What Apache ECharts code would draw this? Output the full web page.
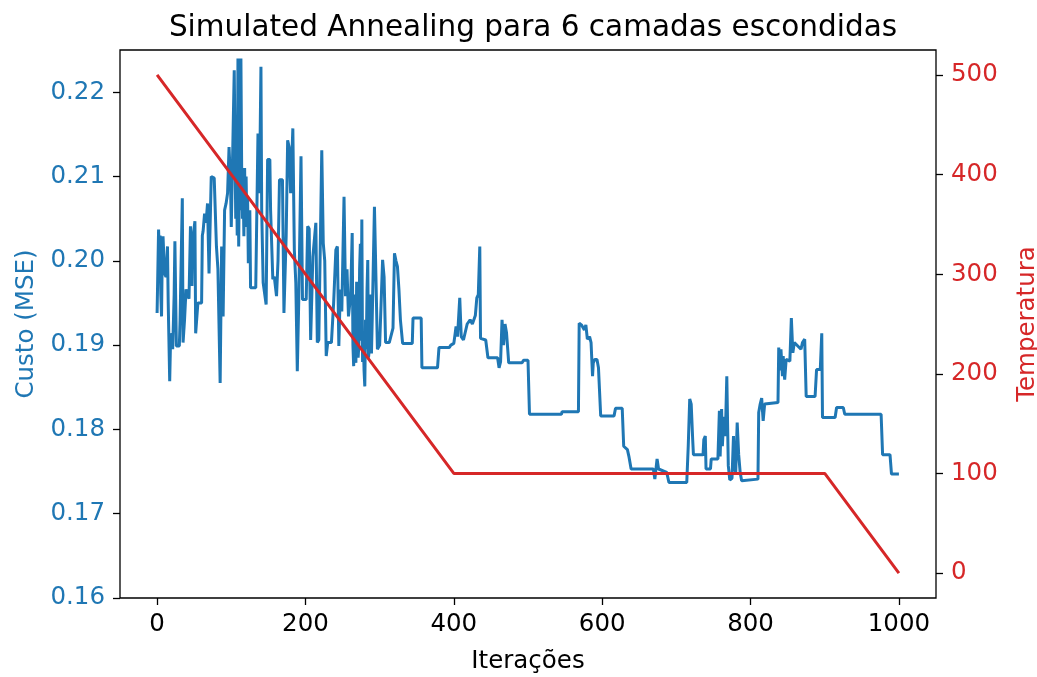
<!DOCTYPE html>
<html>
<head>
<meta charset="utf-8">
<script src="https://cdn.jsdelivr.net/npm/echarts@6/dist/echarts.min.js"></script>
<style>
html,body{margin:0;padding:0;background:#fff;}
#chart{width:1037px;height:677px;}
</style>
</head>
<body>
<div id="chart"></div>
<script>
// ---- data ----
var titleText = 'Simulated Annealing para 6 camadas escondidas';
var xTicks = [0, 200, 400, 600, 800, 1000];
var costTicks = [0.16, 0.17, 0.18, 0.19, 0.20, 0.21, 0.22];
var tempTicks = [0, 100, 200, 300, 400, 500];

var costIter = [
0,2,3,4,5,6,7,8,10,12,14,15,17,18,20,21,23,24,25,26,30,31,34,35,37,39,43,45,47,48,51,52,55,60,61,62,64,66,68,70,73,77,80,82,85,87,89,91,93,95,97,99,100,102,104,
105,106,107,108,109,110,111,112,113,114,115,116,117,118,119,120,121,122,123,124,125,126,133,136,138,140,141,143,147,149,152,153,156,158,161,163,165,169,171,174,176,178,180,183,185,187,189,191,194,196,201,203,205,207,210,214,216,218,222,
224,226,228,230,235,238,241,243,245,247,249,252,254,256,258,261,263,264,265,266,267,268,269,270,271,272,273,274,275,276,277,278,279,280,281,282,283,284,285,286,287,288,289,290,293,295,297,300,304,306,308,313,318,320,322,324,326,328,331,
344,345,356,357,378,380,394,396,400,402,403,405,408,410,413,418,422,425,429,431,433,435,436,443,446,459,461,463,465,467,469,471,474,492,494,500,502,
545,546,568,569,572,574,576,578,580,583,585,587,588,590,593,595,598,616,618,627,629,634,636,639,669,671,673,674,676,687,690,
714,716,718,720,722,723,736,737,739,740,746,747,756,758,759,761,762,764,766,768,769,770,772,775,777,778,780,782,784,786,788,810,811,813,815,817,819,821,837,
838,840,841,843,844,846,848,853,855,857,859,868,870,873,875,887,889,894,896,897,914,916,925,927,976,978,988,990,1000
];
var cost = [
0.1938,0.2037,0.2010,0.2030,0.1960,0.1934,0.2010,0.2029,0.1985,0.1981,0.2017,0.1950,0.1857,0.1900,0.1914,0.1895,0.1960,0.2023,0.1960,0.1899,0.1899,0.1930,0.2074,0.1903,0.1930,0.1966,0.1955,0.2041,0.1970,0.2025,0.2047,0.1914,0.1950,0.1950,0.2030,0.2035,0.2056,0.2045,0.2068,0.1985,0.2100,0.2098,0.2017,0.1990,0.1855,0.2017,0.1934,0.2060,0.2068,0.2080,0.2135,0.2092,0.2040,0.2041,0.2226,
0.2226,0.2050,0.2120,0.2030,0.2240,0.2017,0.2116,0.2060,0.2240,0.2112,0.2050,0.2090,0.2029,0.2110,0.2045,0.2100,0.2040,0.2075,0.1997,0.2030,0.2060,0.1968,0.1968,0.2151,0.2080,0.2230,0.2060,0.1974,0.1948,0.2120,0.2120,0.2060,0.1978,0.1981,0.1958,0.2000,0.2096,0.2096,0.1938,0.2029,0.2143,0.2135,0.2080,0.2157,0.2013,0.1974,0.1869,0.1954,0.2124,0.1954,0.1954,0.2041,0.2038,0.1906,0.2005,0.2045,0.1903,0.1906,0.2131,
0.2021,0.2000,0.1887,0.1903,0.1903,0.1950,0.2013,0.2017,0.1899,0.1966,0.1940,0.2076,0.1958,0.1990,0.1934,0.1960,0.2033,0.1900,0.1875,0.1960,0.1890,0.1879,0.1975,0.1962,0.1885,0.1900,0.1990,0.2020,0.1905,0.2049,0.1880,0.1910,0.1870,0.1851,0.1930,0.1895,0.1965,0.2001,0.1885,0.1895,0.1960,0.1950,0.1890,0.1930,0.2064,0.1981,0.1895,0.1900,0.2001,0.1981,0.1903,0.1903,0.1920,0.2009,0.2000,0.1993,0.1966,0.1930,0.1902,
0.1902,0.1932,0.1932,0.1873,0.1873,0.1897,0.1897,0.1900,0.1902,0.1915,0.1922,0.1910,0.1956,0.1910,0.1906,0.1925,0.1930,0.1925,0.1935,0.1956,0.1960,0.2017,0.1908,0.1906,0.1885,0.1885,0.1873,0.1880,0.1930,0.1900,0.1925,0.1915,0.1879,0.1879,0.1882,0.1882,0.1818,
0.1818,0.1821,0.1821,0.1926,0.1924,0.1926,0.1918,0.1924,0.1907,0.1910,0.1903,0.1863,0.1879,0.1883,0.1883,0.1873,0.1816,0.1816,0.1825,0.1825,0.1780,0.1776,0.1768,0.1753,0.1753,0.1741,0.1741,0.1765,0.1753,0.1749,0.1737,
0.1737,0.1780,0.1836,0.1830,0.1788,0.1770,0.1770,0.1788,0.1792,0.1753,0.1753,0.1765,0.1765,0.1822,0.1768,0.1824,0.1780,0.1815,0.1792,0.1863,0.1862,0.1757,0.1740,0.1742,0.1792,0.1757,0.1749,0.1808,0.1770,0.1749,0.1739,0.1741,0.1820,0.1830,0.1837,0.1810,0.1830,0.1832,0.1832,
0.1897,0.1870,0.1895,0.1863,0.1887,0.1859,0.1883,0.1881,0.1932,0.1891,0.1903,0.1895,0.1903,0.1907,0.1839,0.1839,0.1871,0.1871,0.1914,0.1814,0.1814,0.1826,0.1826,0.1818,0.1818,0.1770,0.1770,0.1747,0.1747
];
var tempIter = [0, 400, 900, 1000];
var temperature = [500, 100, 100, 0];

// ---- chart ----
var costData = costIter.map(function (x, i) { return [x, cost[i]]; });
var tempData = tempIter.map(function (x, i) { return [x, temperature[i]]; });

var FONT = 'DejaVu Sans';
var BLUE = '#1f77b4', RED = '#d62728';
var FS = 24.5;
var tickStyle = {show: true, inside: false, length: 7, lineStyle: {color: '#000', width: 1.3}};
var chart = echarts.init(document.getElementById('chart'), null, {renderer: 'canvas'});
chart.setOption({
  animation: false,
  backgroundColor: '#fff',
  textStyle: {fontFamily: FONT},
  title: {
    text: titleText, left: 528, top: 8, textAlign: 'center',
    textStyle: {fontFamily: FONT, fontSize: 29.5, fontWeight: 'normal', color: '#000'}
  },
  grid: {left: 120, right: 101, top: 50, bottom: 79, containLabel: false, outerBoundsMode: 'none',
    show: true, borderColor: '#000', borderWidth: 1.3, backgroundColor: 'transparent'},
  xAxis: {
    type: 'value', min: -50, max: 1050,
    name: 'Iterações', nameLocation: 'middle', nameGap: 51,
    nameTextStyle: {fontFamily: FONT, fontSize: FS, color: '#000'},
    axisLine: {show: false, onZero: false},
    axisTick: Object.assign({customValues: xTicks}, tickStyle),
    axisLabel: {customValues: xTicks, fontFamily: FONT, fontSize: FS, color: '#000', margin: 14,
      formatter: function (v) { return String(v); }},
    splitLine: {show: false}
  },
  yAxis: [{
    type: 'value', min: 0.16, max: 0.225, position: 'left',
    name: 'Custo (MSE)', nameLocation: 'middle', nameGap: 78, nameRotate: 90,
    nameTextStyle: {fontFamily: FONT, fontSize: FS, color: BLUE},
    axisLine: {show: false, onZero: false},
    axisTick: Object.assign({customValues: costTicks}, tickStyle),
    axisLabel: {customValues: costTicks, fontFamily: FONT, fontSize: FS, color: BLUE, margin: 15,
      formatter: function (v) { return v.toFixed(2); }},
    splitLine: {show: false}
  }, {
    type: 'value', min: -25, max: 525, position: 'right',
    name: 'Temperatura', nameLocation: 'middle', nameGap: 79, nameRotate: 90,
    nameTextStyle: {fontFamily: FONT, fontSize: FS, color: RED},
    axisLine: {show: false, onZero: false},
    axisTick: Object.assign({customValues: tempTicks}, tickStyle),
    axisLabel: {customValues: tempTicks, fontFamily: FONT, fontSize: FS, color: RED, margin: 15,
      formatter: function (v) { return String(v); }},
    splitLine: {show: false}
  }],
  series: [{
    type: 'line', name: 'Custo', yAxisIndex: 0, data: costData,
    showSymbol: false, symbol: 'none', lineStyle: {color: BLUE, width: 3}, itemStyle: {color: BLUE}
  }, {
    type: 'line', name: 'Temperatura', yAxisIndex: 1, data: tempData,
    showSymbol: false, symbol: 'none', lineStyle: {color: RED, width: 3}, itemStyle: {color: RED}
  }]
});
</script>
</body>
</html>
